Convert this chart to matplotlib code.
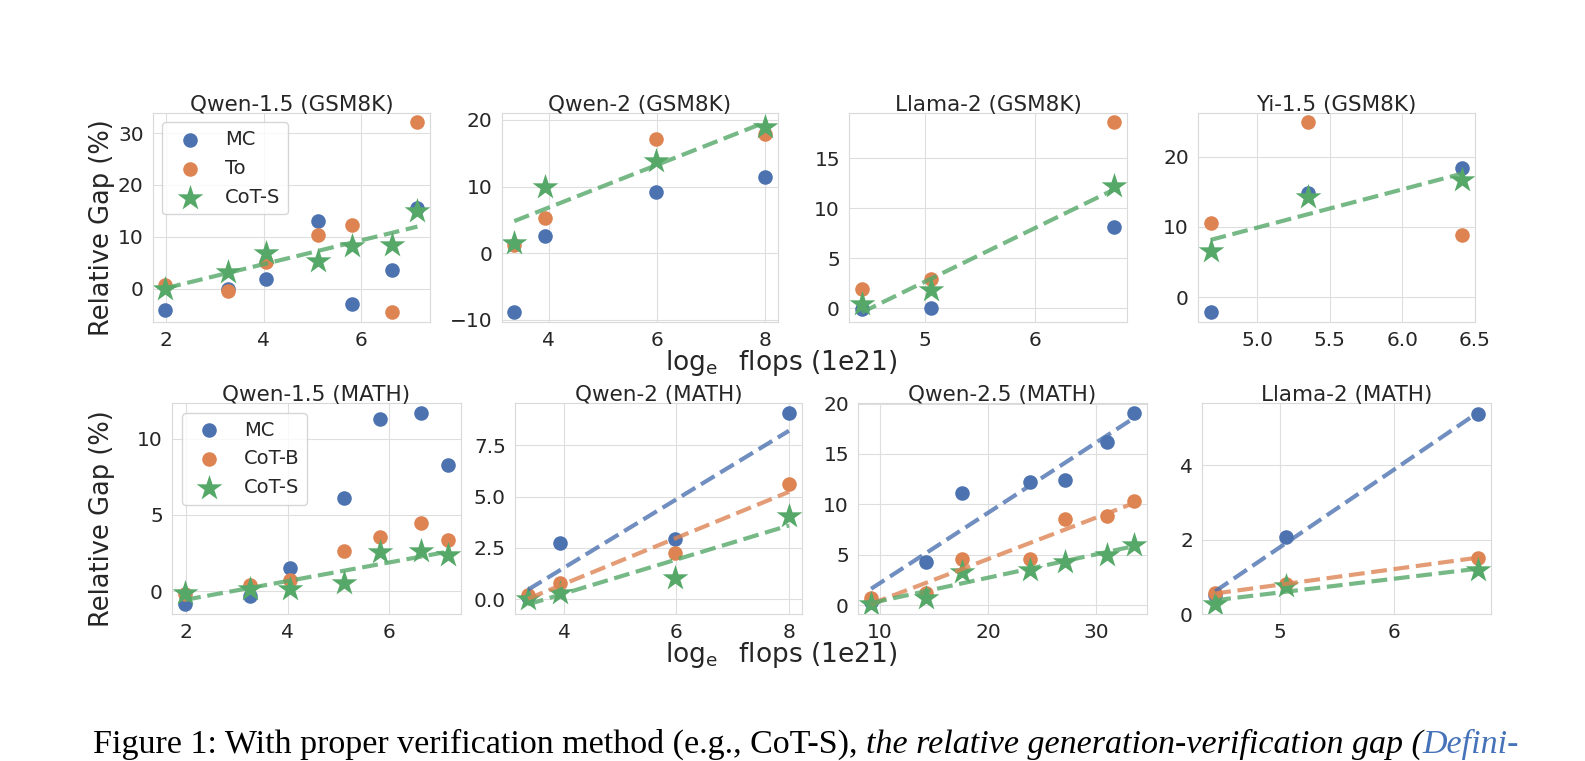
import numpy as np
import matplotlib.pyplot as plt
import seaborn as sns

sns.set_style('whitegrid', {'grid.color': '.87', 'axes.edgecolor': '.85'})
plt.rcParams['font.family'] = ['DejaVu Sans']
plt.rcParams['text.color'] = '.15'

W, H = 1585, 761
BLUE, ORANGE, GREEN = '#4C72B0', '#DD8452', '#55A868'

# x values: log_e flops (1e21)
qwen15_x = [1.98, 3.26, 4.05, 5.11, 5.81, 6.62, 7.15]
qwen2_x = [3.36, 3.93, 5.97, 8.0]
llama2_x = [4.43, 5.06, 6.72]
yi15_x = [4.68, 5.35, 6.41]
qwen25_x = [9.17, 14.29, 17.58, 23.9, 27.1, 31.0, 33.47]
llama2_math_x = [4.43, 5.05, 6.73]

# GSM8K (top row)
qwen15_gsm_mc = [-4.1, 0.0, 1.9, 13.1, -2.9, 3.6, 15.6]
qwen15_gsm_to = [0.7, -0.5, 5.1, 10.3, 12.2, -4.6, 32.1]
qwen15_gsm_cots = [-0.1, 3.2, 6.9, 5.3, 8.2, 8.4, 14.9]

qwen2_gsm_mc = [-8.9, 2.6, 9.2, 11.5]
qwen2_gsm_to = [1.2, 5.3, 17.2, 17.9]
qwen2_gsm_cots = [1.6, 10.0, 13.8, 18.9]

llama2_gsm_mc = [-0.1, 0.0, 8.1]
llama2_gsm_to = [1.9, 2.9, 18.6]
llama2_gsm_cots = [0.4, 1.8, 12.2]

yi15_gsm_mc = [-2.2, 14.8, 18.4]
yi15_gsm_to = [10.6, 24.9, 8.9]
yi15_gsm_cots = [6.6, 14.3, 16.6]

# MATH (bottom row)
qwen15_math_mc = [-0.86, -0.3, 1.5, 6.1, 11.25, 11.7, 8.3]
qwen15_math_cotb = [-0.2, 0.4, 0.77, 2.65, 3.57, 4.5, 3.38]
qwen15_math_cots = [-0.09, 0.13, 0.13, 0.57, 2.59, 2.65, 2.37]

qwen2_math_mc = [0.1, 2.76, 2.95, 9.09]
qwen2_math_cotb = [0.2, 0.81, 2.26, 5.6]
qwen2_math_cots = [0.03, 0.32, 1.05, 4.06]

qwen25_math_mc = [0.3, 4.32, 11.13, 12.2, 12.46, 16.18, 19.1]
qwen25_math_cotb = [0.66, 1.2, 4.55, 4.62, 8.57, 8.87, 10.36]
qwen25_math_cots = [0.07, 0.73, 3.32, 3.49, 4.32, 4.98, 5.98]

llama2_math_mc = [0.5, 2.06, 5.38]
llama2_math_cotb = [0.56, 0.8, 1.52]
llama2_math_cots = [0.26, 0.75, 1.18]


def px_box(l, r, t, b):
    return [l / W, 1 - b / H, (r - l) / W, (b - t) / H]


def fit_line(ax, x, y, color):
    x = np.asarray(x)
    k, c = np.polyfit(x, y, 1)
    xs = np.array([x.min(), x.max()])
    ax.plot(xs, k * xs + c, linestyle=(0, (3.8, 1.6)), color=color, lw=3, alpha=0.8)


panels = [
    # box, title, x, mc, second, second label, cots, fit all, xticks, yticks
    (px_box(152.7, 430, 112.7, 322), 'Qwen-1.5 (GSM8K)', qwen15_x,
     qwen15_gsm_mc, qwen15_gsm_to, 'To', qwen15_gsm_cots, False, [2, 4, 6], [0, 10, 20, 30]),
    (px_box(501.7, 778, 112.7, 322), 'Qwen-2 (GSM8K)', qwen2_x,
     qwen2_gsm_mc, qwen2_gsm_to, 'To', qwen2_gsm_cots, False, [4, 6, 8], [-10, 0, 10, 20]),
    (px_box(849, 1127, 112.7, 322), 'Llama-2 (GSM8K)', llama2_x,
     llama2_gsm_mc, llama2_gsm_to, 'To', llama2_gsm_cots, False, [5, 6], [0, 5, 10, 15]),
    (px_box(1198, 1475, 112.7, 322), 'Yi-1.5 (GSM8K)', yi15_x,
     yi15_gsm_mc, yi15_gsm_to, 'To', yi15_gsm_cots, False, [5.0, 5.5, 6.0, 6.5], [0, 10, 20]),
    (px_box(172, 461, 403, 614), 'Qwen-1.5 (MATH)', qwen15_x,
     qwen15_math_mc, qwen15_math_cotb, 'CoT-B', qwen15_math_cots, False, [2, 4, 6], [0, 5, 10]),
    (px_box(515, 802, 403, 614), 'Qwen-2 (MATH)', qwen2_x,
     qwen2_math_mc, qwen2_math_cotb, 'CoT-B', qwen2_math_cots, True, [4, 6, 8], [0, 2.5, 5, 7.5]),
    (px_box(858, 1147, 403, 614), 'Qwen-2.5 (MATH)', qwen25_x,
     qwen25_math_mc, qwen25_math_cotb, 'CoT-B', qwen25_math_cots, True, [10, 20, 30], [0, 5, 10, 15, 20]),
    (px_box(1202, 1491, 403, 614), 'Llama-2 (MATH)', llama2_math_x,
     llama2_math_mc, llama2_math_cotb, 'CoT-B', llama2_math_cots, True, [5, 6], [0, 2, 4]),
]

fig = plt.figure(figsize=(W / 100, H / 100), dpi=100)

axes = []
for i, (box, title, x, mc, second, second_label, cots, fit_all, xt, yt) in enumerate(panels):
    ax = fig.add_axes(box)
    axes.append(ax)
    ax.scatter(x, mc, s=110, color=BLUE, linewidths=0, label='MC')
    ax.scatter(x, second, s=110, color=ORANGE, linewidths=0, label=second_label)
    ax.scatter(x, cots, s=380, marker='*', color=GREEN, linewidths=0, label='CoT-S')
    if fit_all:
        fit_line(ax, x, mc, BLUE)
        fit_line(ax, x, second, ORANGE)
    fit_line(ax, x, cots, GREEN)
    ax.set_xticks(xt)
    ax.set_yticks(yt)
    ax.tick_params(labelsize=14.5, colors='.15', pad=3)
    ax.set_title(title, fontsize=15.5, pad=1.5, color='.15')
    if i in (0, 4):
        ax.set_ylabel('Relative Gap (%)', fontsize=18.5, color='.15')
        left = box[0] * W
        ax.yaxis.set_label_coords((115 - left) / (box[2] * W), 0.45)
        ax.legend(loc='upper left', fontsize=14, frameon=True, borderaxespad=0.5)

xlabel = r'$\log_{\mathrm{e}}$  flops (1e21)'
fig.text(781 / W, 1 - 363 / H, xlabel, fontsize=19, ha='center', va='center')
fig.text(781 / W, 1 - 655 / H, xlabel, fontsize=19, ha='center', va='center')

# caption line at the bottom edge of the page crop
cap_font = dict(family='Liberation Serif', fontsize=24.5, va='bottom')
t1 = fig.text(93 / W, 1 - 760 / H, 'Figure 1: With proper verification method (e.g., CoT-S), ',
              color='black', **cap_font)
t2 = axes[0].annotate('the relative generation-verification gap (', xy=(1, 0), xycoords=t1,
                      style='italic', color='black', annotation_clip=False, **cap_font)
axes[0].annotate('Defini-', xy=(1, 0), xycoords=t2, style='italic', color='#4572B8',
                 annotation_clip=False, **cap_font)

fig.savefig('out.png', dpi=100, facecolor='white')
